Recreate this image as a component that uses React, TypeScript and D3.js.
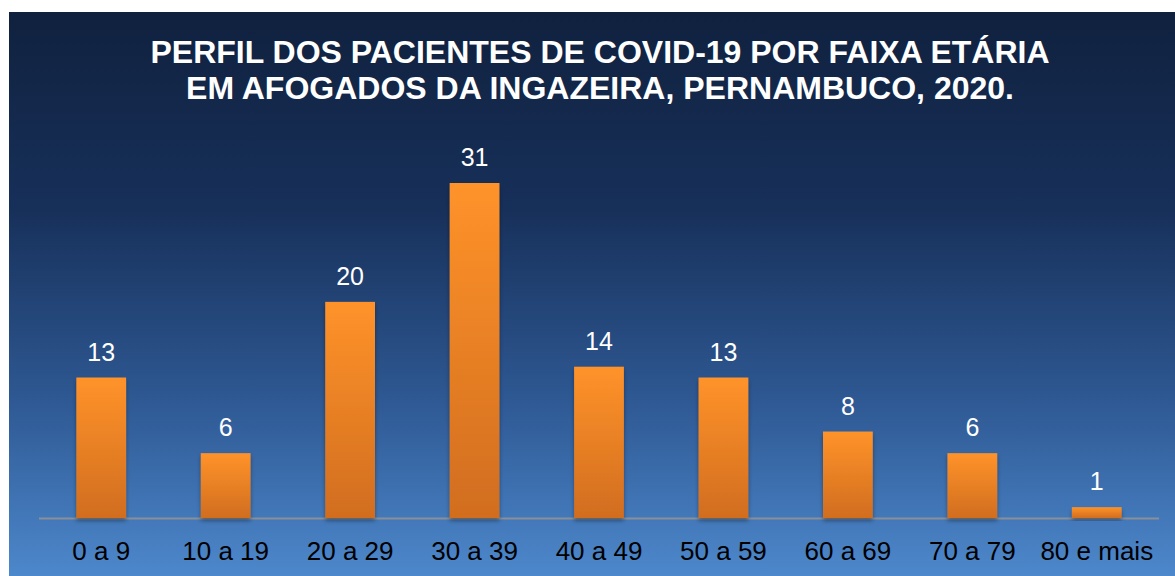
import { useEffect, useRef } from 'react'
import * as d3 from 'd3'

const faixas = ['0 a 9', '10 a 19', '20 a 29', '30 a 39', '40 a 49', '50 a 59', '60 a 69', '70 a 79', '80 e mais']
const pacientes = [13, 6, 20, 31, 14, 13, 8, 6, 1]
const tituloLinhas = ['PERFIL DOS PACIENTES DE COVID-19 POR FAIXA ETÁRIA', 'EM AFOGADOS DA INGAZEIRA, PERNAMBUCO, 2020.']

export default function App() {
  const chartRef = useRef<SVGSVGElement | null>(null)

  useEffect(() => {
    const svg = d3.select(chartRef.current)
    svg.selectAll('*').remove()

    const W = 1175
    const H = 576
    const baseY = 518
    const font = 'Liberation Sans, Arial, sans-serif'

    const defs = svg.append('defs')
    const bg = defs.append('linearGradient').attr('id', 'bg').attr('x1', 0).attr('y1', 0).attr('x2', 0).attr('y2', 1)
    bg.append('stop').attr('offset', '0%').attr('stop-color', '#10213e')
    bg.append('stop').attr('offset', '35%').attr('stop-color', '#17305a')
    bg.append('stop').attr('offset', '70%').attr('stop-color', '#2f5a95')
    bg.append('stop').attr('offset', '100%').attr('stop-color', '#4d88cc')

    const barGrad = defs.append('linearGradient').attr('id', 'barGrad').attr('x1', 0).attr('y1', 0).attr('x2', 0).attr('y2', 1)
    barGrad.append('stop').attr('offset', '0%').attr('stop-color', '#ff932a')
    barGrad.append('stop').attr('offset', '100%').attr('stop-color', '#d16d1f')

    const shadow = defs.append('filter').attr('id', 'sh').attr('x', '-20%').attr('y', '-20%').attr('width', '140%').attr('height', '140%')
    shadow.append('feDropShadow').attr('dx', 0).attr('dy', 3).attr('stdDeviation', 2).attr('flood-color', '#000').attr('flood-opacity', 0.35)

    svg.append('rect').attr('x', 9).attr('y', 12).attr('width', W - 9).attr('height', H - 12).attr('fill', 'url(#bg)')

    const x = d3.scaleBand<string>()
      .domain(faixas)
      .range([39, 1159])
      .paddingInner(0.6)
      .paddingOuter(0.3)

    const y = d3.scaleLinear()
      .domain([0, 31])
      .range([baseY, 183])

    svg.append('g')
      .selectAll('text')
      .data(tituloLinhas)
      .enter().append('text')
      .attr('x', 600)
      .attr('y', (d, i) => 63 + i * 36)
      .attr('text-anchor', 'middle')
      .attr('fill', '#ffffff')
      .style('font-family', font)
      .style('font-weight', 'bold')
      .style('font-size', '32px')
      .text(d => d)

    svg.append('line')
      .attr('x1', 39).attr('x2', 1159)
      .attr('y1', baseY + 0.5).attr('y2', baseY + 0.5)
      .attr('stroke', '#8a8f98')
      .attr('stroke-width', 2)

    svg.selectAll('.bar')
      .data(pacientes)
      .enter().append('rect')
      .attr('class', 'bar')
      .attr('x', (d, i) => x(faixas[i]) as number)
      .attr('width', x.bandwidth())
      .attr('y', d => y(d))
      .attr('height', d => baseY - y(d))
      .attr('fill', 'url(#barGrad)')
      .attr('filter', 'url(#sh)')

    svg.selectAll('.val')
      .data(pacientes)
      .enter().append('text')
      .attr('class', 'val')
      .attr('x', (d, i) => (x(faixas[i]) as number) + x.bandwidth() / 2)
      .attr('y', d => y(d) - 17)
      .attr('text-anchor', 'middle')
      .attr('fill', '#ffffff')
      .style('font-family', font)
      .style('font-size', '25px')
      .text(d => d)

    svg.selectAll('.cat')
      .data(faixas)
      .enter().append('text')
      .attr('class', 'cat')
      .attr('x', d => (x(d) as number) + x.bandwidth() / 2)
      .attr('y', 560)
      .attr('text-anchor', 'middle')
      .attr('fill', '#000000')
      .style('font-family', font)
      .style('font-size', '26px')
      .text(d => d)
  }, [])

  return (
    <svg ref={chartRef} width={1175} height={576} style={{ position: 'absolute', left: 0, top: 0, display: 'block' }} />
  )
}
